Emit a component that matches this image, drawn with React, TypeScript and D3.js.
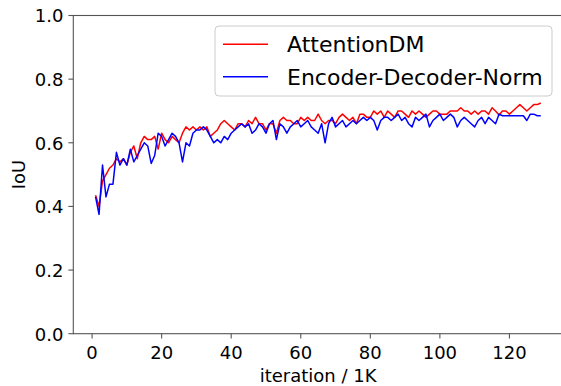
import React, { useEffect, useRef } from 'react';
import * as d3 from 'd3';

// iteration index (x 1K)
const iterations = d3.range(1, 130);

const attentionDM = [
  0.435, 0.40, 0.48, 0.50, 0.52, 0.53, 0.55, 0.54, 0.55, 0.53,
  0.57, 0.59, 0.55, 0.60, 0.62, 0.61, 0.61, 0.62, 0.58, 0.63,
  0.61, 0.60, 0.62, 0.61, 0.60, 0.63, 0.65, 0.64, 0.65, 0.64,
  0.65, 0.64, 0.65, 0.62, 0.63, 0.64, 0.66, 0.67, 0.66, 0.65,
  0.64, 0.66, 0.66, 0.65, 0.67, 0.66, 0.68, 0.66, 0.66, 0.64,
  0.66, 0.66, 0.63, 0.67, 0.68, 0.67, 0.67, 0.66, 0.66, 0.68,
  0.67, 0.68, 0.67, 0.67, 0.69, 0.67, 0.66, 0.67, 0.67, 0.66,
  0.68, 0.69, 0.68, 0.67, 0.68, 0.66, 0.69, 0.69, 0.68, 0.68,
  0.70, 0.69, 0.70, 0.68, 0.70, 0.69, 0.68, 0.70, 0.70, 0.69,
  0.68, 0.70, 0.69, 0.70, 0.69, 0.68, 0.69, 0.70, 0.70, 0.69,
  0.69, 0.69, 0.70, 0.70, 0.70, 0.71, 0.70, 0.70, 0.69, 0.70,
  0.69, 0.70, 0.70, 0.69, 0.71, 0.70, 0.687, 0.70, 0.70, 0.69,
  0.70, 0.71, 0.72, 0.71, 0.70, 0.71, 0.72, 0.72, 0.725,
];

const encoderDecoderNorm = [
  0.43, 0.375, 0.53, 0.43, 0.47, 0.47, 0.57, 0.53, 0.55, 0.53,
  0.58, 0.54, 0.56, 0.58, 0.60, 0.59, 0.535, 0.56, 0.63, 0.62,
  0.59, 0.61, 0.63, 0.62, 0.60, 0.54, 0.60, 0.59, 0.63, 0.64,
  0.64, 0.65, 0.64, 0.62, 0.60, 0.61, 0.60, 0.62, 0.61, 0.63,
  0.64, 0.65, 0.66, 0.65, 0.66, 0.63, 0.64, 0.66, 0.65, 0.63,
  0.66, 0.67, 0.61, 0.66, 0.65, 0.63, 0.65, 0.66, 0.67, 0.65,
  0.66, 0.67, 0.65, 0.64, 0.63, 0.66, 0.60, 0.66, 0.68, 0.65,
  0.66, 0.67, 0.65, 0.66, 0.67, 0.66, 0.67, 0.68, 0.67, 0.68,
  0.67, 0.64, 0.67, 0.68, 0.68, 0.67, 0.68, 0.69, 0.67, 0.68,
  0.66, 0.65, 0.68, 0.67, 0.68, 0.69, 0.65, 0.67, 0.68, 0.69,
  0.67, 0.68, 0.69, 0.68, 0.65, 0.67, 0.68, 0.67, 0.66, 0.65,
  0.67, 0.68, 0.66, 0.68, 0.67, 0.66, 0.69, 0.685, 0.685, 0.685,
  0.685, 0.685, 0.685, 0.685, 0.67, 0.69, 0.69, 0.685, 0.685,
];

const xTicks = [0, 20, 40, 60, 80, 100, 120];
const yTicks = [0, 0.2, 0.4, 0.6, 0.8, 1.0];

const series = [
  { name: 'AttentionDM', values: attentionDM, color: '#ff0000' },
  { name: 'Encoder-Decoder-Norm', values: encoderDecoderNorm, color: '#0000ff' },
];

const App = () => {
  const ref = useRef<SVGSVGElement>(null);

  useEffect(() => {
    const width = 561;
    const height = 386;
    const left = 73.3, right = 563, top = 15.5, bottom = 333.7;
    const font = 'DejaVu Sans';
    const axisColor = '#555';

    const svg = d3.select(ref.current);
    svg.selectAll('*').remove();
    svg.attr('width', width).attr('height', height);

    const [xmin, xmax] = d3.extent(iterations) as [number, number];
    const pad = (xmax - xmin) * 0.05;
    const x = d3.scaleLinear().domain([xmin - pad, xmax + pad]).range([left, right]);
    const y = d3.scaleLinear().domain([0, 1]).range([bottom, top]);

    const line = d3.line<number>()
      .x((_, i) => x(iterations[i]))
      .y(d => y(d));

    series.forEach(s => {
      svg.append('path')
        .attr('d', line(s.values))
        .attr('fill', 'none')
        .attr('stroke', s.color)
        .attr('stroke-width', 1.5)
        .attr('stroke-linejoin', 'round');
    });

    // spines
    svg.append('rect')
      .attr('x', left).attr('y', top)
      .attr('width', right - left).attr('height', bottom - top)
      .attr('fill', 'none')
      .attr('stroke', axisColor)
      .attr('stroke-width', 1.1);

    // x ticks
    const gx = svg.append('g');
    xTicks.forEach(t => {
      gx.append('line')
        .attr('x1', x(t)).attr('x2', x(t))
        .attr('y1', bottom).attr('y2', bottom + 4.9)
        .attr('stroke', axisColor).attr('stroke-width', 1.1);
      gx.append('text')
        .attr('x', x(t)).attr('y', 358.5)
        .attr('text-anchor', 'middle')
        .attr('font-family', font).attr('font-size', 18)
        .attr('fill', '#000')
        .text(t);
    });

    // y ticks
    const gy = svg.append('g');
    yTicks.forEach(t => {
      gy.append('line')
        .attr('x1', left - 4.9).attr('x2', left)
        .attr('y1', y(t)).attr('y2', y(t))
        .attr('stroke', axisColor).attr('stroke-width', 1.1);
      gy.append('text')
        .attr('x', left - 9.8).attr('y', y(t) + 6.8)
        .attr('text-anchor', 'end')
        .attr('font-family', font).attr('font-size', 18)
        .attr('fill', '#000')
        .text(d3.format('.1f')(t));
    });

    // axis labels
    svg.append('text')
      .attr('x', (left + right) / 2).attr('y', 382)
      .attr('text-anchor', 'middle')
      .attr('font-family', font).attr('font-size', 18)
      .text('iteration / 1K');

    svg.append('text')
      .attr('transform', `translate(25,${(top + bottom) / 2}) rotate(-90)`)
      .attr('text-anchor', 'middle')
      .attr('font-family', font).attr('font-size', 18)
      .text('IoU');

    // legend
    const lg = svg.append('g');
    lg.append('rect')
      .attr('x', 215).attr('y', 26)
      .attr('width', 337).attr('height', 70)
      .attr('rx', 4)
      .attr('fill', 'rgba(255,255,255,0.8)')
      .attr('stroke', '#cccccc')
      .attr('stroke-width', 1);
    series.forEach((s, i) => {
      const ly = 44.3 + i * 32.4;
      lg.append('line')
        .attr('x1', 223).attr('x2', 268)
        .attr('y1', ly).attr('y2', ly)
        .attr('stroke', s.color).attr('stroke-width', 1.5);
      lg.append('text')
        .attr('x', 287).attr('y', ly + 8)
        .attr('font-family', font).attr('font-size', 22)
        .text(s.name);
    });
  }, []);

  return (
    <div style={{ position: 'absolute', left: 0, top: 0 }}>
      <svg ref={ref} style={{ display: 'block' }}></svg>
    </div>
  );
};

export default App;
